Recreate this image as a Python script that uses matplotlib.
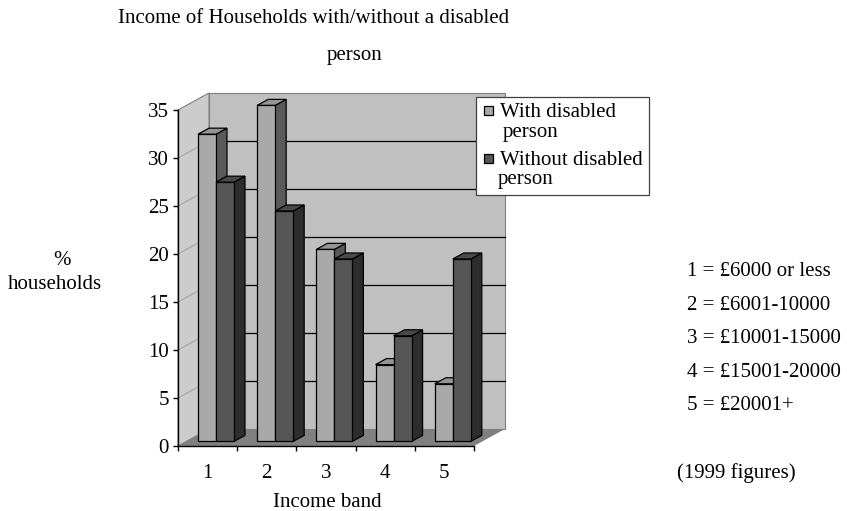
import matplotlib
matplotlib.use("Agg")
import matplotlib.pyplot as plt
from matplotlib.patches import Polygon, Rectangle

# Income bands and household shares (%)
bands = [1, 2, 3, 4, 5]
band_labels = ["1", "2", "3", "4", "5"]
with_disabled = [32, 35, 20, 8, 6]
without_disabled = [27, 24, 19, 11, 19]
series_names = ["With disabled\n person", "Without disabled\nperson"]
band_key = ["1 = £6000 or less", "2 = £6001-10000", "3 = £10001-15000",
            "4 = £15001-20000", "5 = £20001+"]
y_ticks = [0, 5, 10, 15, 20, 25, 30, 35]

W, H = 847, 511
plt.rcParams["font.family"] = ["Liberation Serif", "DejaVu Serif"]
FS = 15

fig = plt.figure(figsize=(W / 100, H / 100), dpi=100)


def fx(x):
    return x / W


def fy(y):
    return 1 - y / H


# front plane of the 3-D box
left, right, bottom, top = 178, 474, 446, 110
ax = fig.add_axes([fx(left), fy(bottom), fx(right - left), (bottom - top) / H])
xmin, xmax, ymin, ymax = 0.5, 5.5, 0, 35
ax.set_xlim(xmin, xmax)
ax.set_ylim(ymin, ymax)
ax.patch.set_visible(False)

# depth of the box, expressed in data units
px_x = (xmax - xmin) / (right - left)
px_y = (ymax - ymin) / (bottom - top)
DX, DY = 31 * px_x, 17 * px_y

back = "#c0c0c0"
side = "#cccccc"
floor = "#808080"
edge = "#808080"

# side wall, back wall, floor
ax.add_patch(Polygon([(xmin, ymin), (xmin + DX, ymin + DY), (xmin + DX, ymax + DY),
                      (xmin, ymax)], closed=True, fc=side, ec=edge, lw=0.8,
                     clip_on=False, zorder=0))
ax.add_patch(Polygon([(xmin + DX, ymin + DY), (xmax + DX, ymin + DY),
                      (xmax + DX, ymax + DY), (xmin + DX, ymax + DY)], closed=True,
                     fc=back, ec=edge, lw=0.8, clip_on=False, zorder=0))
for v in y_ticks[1:-1]:
    ax.plot([xmin + DX, xmax + DX], [v + DY, v + DY], color="black", lw=0.9,
            clip_on=False, zorder=1)
    ax.plot([xmin, xmin + DX], [v, v + DY], color="#a0a0a0", lw=0.7,
            clip_on=False, zorder=1)
ax.add_patch(Polygon([(xmin, ymin), (xmax, ymin), (xmax + DX, ymin + DY),
                      (xmin + DX, ymin + DY)], closed=True, fc=floor, ec="none",
                     clip_on=False, zorder=1))

# bars sit part way into the box and have their own depth
SX, SY = 0.27 * DX, 0.27 * DY
BDX, BDY = 0.355 * DX, 0.355 * DY
bw = 18 * px_x

styles = [
    dict(front="#a9a9a9", top="#959595", side="#5a5a5a", z=3),
    dict(front="#565656", top="#4a4a4a", side="#2d2d2d", z=4),
]
offsets = [-bw / 2, bw / 2]
for vals, st, off in zip([with_disabled, without_disabled], styles, offsets):
    xs = [b + off + SX for b in bands]
    bars = ax.bar(xs, vals, width=bw, bottom=SY, color=st["front"],
                  edgecolor="black", linewidth=0.9, zorder=st["z"] + 0.2,
                  clip_on=False)
    for r in bars:
        x0, y0, w, h = r.get_x(), r.get_y(), r.get_width(), r.get_height()
        topf = [(x0, y0 + h), (x0 + w, y0 + h), (x0 + w + BDX, y0 + h + BDY),
                (x0 + BDX, y0 + h + BDY)]
        sidef = [(x0 + w, y0), (x0 + w + BDX, y0 + BDY),
                 (x0 + w + BDX, y0 + h + BDY), (x0 + w, y0 + h)]
        ax.add_patch(Polygon(sidef, closed=True, fc=st["side"], ec="black",
                             lw=0.9, zorder=st["z"], clip_on=False))
        ax.add_patch(Polygon(topf, closed=True, fc=st["top"], ec="black",
                             lw=0.9, zorder=st["z"] + 0.1, clip_on=False))

# axes
for s in ["top", "right"]:
    ax.spines[s].set_visible(False)
for s in ["left", "bottom"]:
    ax.spines[s].set_color("black")
    ax.spines[s].set_linewidth(1.0)
    ax.spines[s].set_zorder(6)
ax.set_yticks(y_ticks)
ax.set_yticklabels([str(v) for v in y_ticks])
ax.tick_params(axis="y", direction="out", length=3.6, width=1, pad=3,
               labelsize=FS)
ax.set_xticks(bands)
ax.set_xticklabels(band_labels)
ax.set_xticks([b - 0.5 for b in bands] + [bands[-1] + 0.5], minor=True)
ax.tick_params(axis="x", which="major", length=0, pad=13, labelsize=FS)
ax.tick_params(axis="x", which="minor", direction="out", length=3.6, width=1)

# titles and labels
fig.text(fx(118), fy(23), "Income of Households with/without a disabled",
         fontsize=FS, ha="left", va="baseline")
fig.text(fx(355), fy(60), "person", fontsize=FS, ha="center", va="baseline")
fig.text(fx(62), fy(265), "%", fontsize=FS, ha="center", va="baseline")
fig.text(fx(55), fy(289), "households", fontsize=FS, ha="center", va="baseline")
fig.text(fx(327), fy(507), "Income band", fontsize=FS, ha="center",
         va="baseline")

for i, t in enumerate(band_key):
    fig.text(fx(687), fy(276 + 33.5 * i), t, fontsize=FS, ha="left",
             va="baseline")
fig.text(fx(677), fy(478), "(1999 figures)", fontsize=FS, ha="left",
         va="baseline")

# legend box
fig.add_artist(Rectangle((fx(476), fy(195)), fx(649 - 476), (195 - 97) / H,
                         transform=fig.transFigure, fc="white", ec="#404040",
                         lw=0.9, zorder=10))
legend_rows = [(111, 117, 137, 503), (159, 165, 184, 498)]
for (cy, b1, b2, x2), name, st in zip(legend_rows, series_names, styles):
    fig.add_artist(Rectangle((fx(483.5), fy(cy + 4.5)), fx(9), 9 / H,
                             transform=fig.transFigure, fc=st["front"],
                             ec="black", lw=0.9, zorder=11))
    l1, l2 = name.split("\n")
    fig.text(fx(500), fy(b1), l1, fontsize=FS, ha="left", va="baseline",
             zorder=12)
    fig.text(fx(x2), fy(b2), l2.strip(), fontsize=FS, ha="left", va="baseline",
             zorder=12)

fig.savefig("out.png", dpi=100, facecolor="white")
